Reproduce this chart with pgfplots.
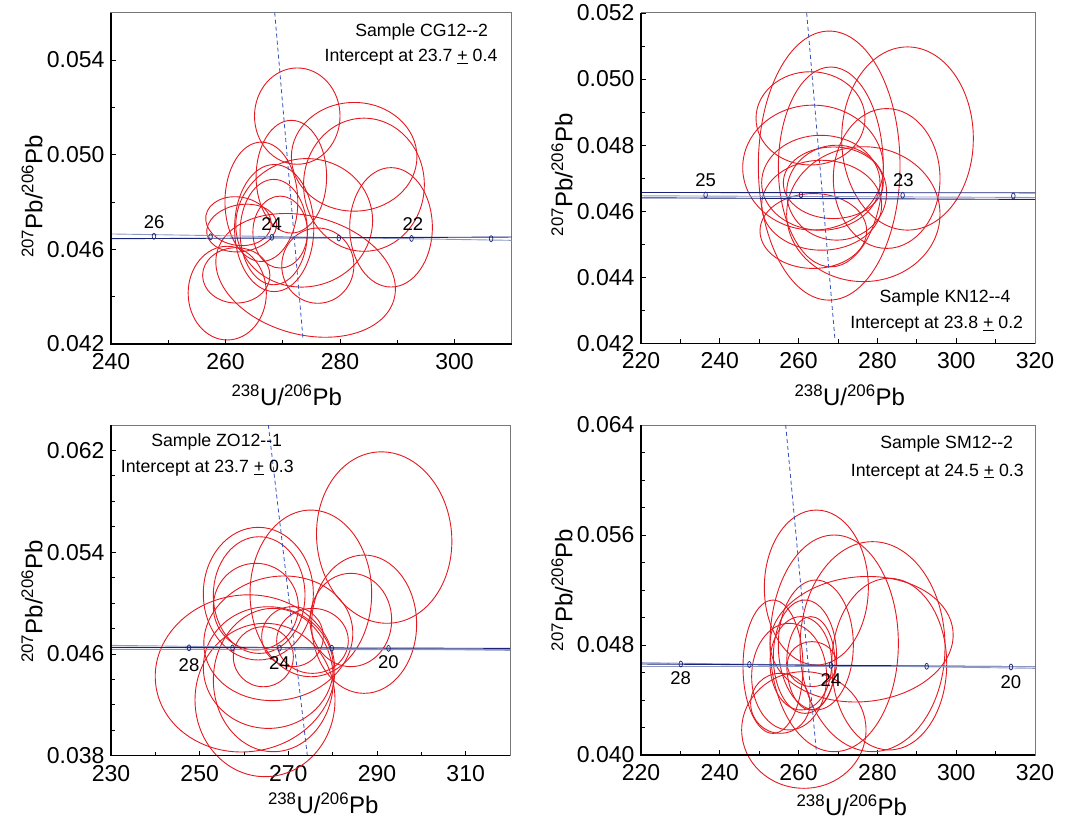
\documentclass[border=0pt]{standalone}
\usepackage{fontspec}
\setmainfont{Liberation Sans}
\usepackage{pgfplots}
\pgfplotsset{compat=1.18}
\definecolor{ellred}{RGB}{228,24,32}
\definecolor{discblue}{RGB}{50,80,190}
\definecolor{concnavy}{RGB}{25,35,120}
\definecolor{conclight}{RGB}{140,150,195}
\definecolor{spinegray}{RGB}{120,120,120}
% error ellipse: centre x, centre y, x radius, y radius, rotation
\newcommand\elp[5]{\draw[ellred, line width=0.9pt] (axis cs:#1,#2) circle [x radius=#3, y radius=#4, rotate=#5];}
\newcommand\spines{\draw[black, line width=1.1pt] (rel axis cs:0,1) -- (rel axis cs:0,0) -- (rel axis cs:1,0);}
\newcommand\labfont{\fontsize{24}{28}\selectfont}
\pgfplotsset{
  panel/.style={
    scale only axis, clip=false, anchor=south west,
    axis line style={spinegray, line width=1pt},
    tick align=inside, tick pos=left,
    major tick length=5pt, minor tick length=4pt,
    every tick/.style={black, line width=0.8pt},
    tick label style={font=\fontsize{23}{26}\selectfont},
    /pgf/number format/assume math mode=true,
    scaled y ticks=false, scaled x ticks=false,
    y tick label style={xshift=-3pt, /pgf/number format/fixed, /pgf/number format/fixed zerofill, /pgf/number format/precision=3},
    x tick label style={yshift=-6pt, /pgf/number format/fixed, /pgf/number format/precision=0},
    xlabel={\textsuperscript{238}U/\textsuperscript{206}Pb},
    ylabel={\textsuperscript{207}Pb/\textsuperscript{206}Pb},
  },
  conc/.style={concnavy, line width=0.9pt},
  concl/.style={conclight, line width=0.9pt},
  disc/.style={discblue, line width=0.8pt, dash pattern=on 4pt off 3pt},
  agemk/.style={only marks, mark=o, mark size=3pt, mark options={concnavy, xscale=0.6, line width=0.7pt}},
}
\newcommand\agelab{\fontsize{18.5}{20}\selectfont}
\newcommand\txt{\fontsize{17.7}{20}\selectfont}
\begin{document}
\begin{tikzpicture}
\useasboundingbox (0,0) rectangle (1089pt,820pt);
% ---------------- Panel 1: CG12--2
\begin{axis}[panel, at={(111pt,476pt)}, width=400.7pt, height=331.3pt,
  xmin=240, xmax=310, ymin=0.042, ymax=0.056,
  xtick={240,260,280,300}, minor x tick num=1,
  ytick={0.042,0.046,0.050,0.054}, minor y tick num=1,
  every axis x label/.style={at={(axis description cs:0.4385,-0.154)}, anchor=center, font=\labfont},
  every axis y label/.style={at={(axis description cs:-0.197,0.445)}, rotate=90, anchor=center, font=\labfont}]
\elp{272.54}{0.05163}{7.47}{0.002035}{0}
\elp{282.48}{0.04991}{10.97}{0.002297}{0}
\elp{284.19}{0.04873}{10.55}{0.002813}{0}
\elp{288.92}{0.04693}{7.22}{0.002523}{0}
\elp{271.51}{0.04907}{6.16}{0.002382}{0}
\elp{266.27}{0.04801}{6.36}{0.002523}{0}
\elp{274.0}{0.04490}{16.0}{0.00250}{-15}
\elp{273.75}{0.04712}{12.0}{0.00270}{15}
\elp{262.27}{0.04719}{5.77}{0.00102}{-10}
\elp{262.83}{0.04690}{6.16}{0.00099}{10}
\elp{268.51}{0.04690}{6.92}{0.002685}{0}
\elp{268.43}{0.04673}{5.88}{0.002226}{0}
\elp{269.55}{0.04673}{4.76}{0.00152}{0}
\elp{276.13}{0.04531}{6.30}{0.00159}{0}
\elp{261.88}{0.04490}{5.88}{0.00117}{0}
\elp{260.31}{0.04415}{6.83}{0.00198}{0}
\addplot[concl] coordinates {(240,0.04665) (310,0.04638)};
\addplot[conc] coordinates {(240,0.04645) (310,0.04652)};
\addplot[agemk] coordinates {(247.5,0.04655) (257.4,0.04653) (268.1,0.04651) (279.8,0.04648) (292.5,0.04646) (306.4,0.04645)};
\addplot[disc] coordinates {(268.6,0.0560) (273.56,0.04217)};
\node[font=\agelab] at (axis cs:247.54,0.04717) {26};
\node[font=\agelab] at (axis cs:268.07,0.04709) {24};
\node[font=\agelab] at (axis cs:292.75,0.04709) {22};
\node[font=\txt] at (rel axis cs:0.7754,0.9427) {Sample CG12-{}-2};
\node[font=\txt] at (rel axis cs:0.7487,0.8663) {Intercept at 23.7 \underline{+} 0.4};
\spines
\end{axis}
% ---------------- Panel 2: KN12--4
\begin{axis}[panel, at={(641pt,476.7pt)}, width=394pt, height=330.3pt,
  xmin=220, xmax=320, ymin=0.042, ymax=0.052,
  xtick={220,240,260,280,300,320}, minor x tick num=1,
  ytick={0.042,0.044,0.046,0.048,0.050,0.052}, minor y tick num=1,
  every axis x label/.style={at={(axis description cs:0.53,-0.1565)}, anchor=center, font=\labfont},
  every axis y label/.style={at={(axis description cs:-0.2005,0.51)}, rotate=90, anchor=center, font=\labfont}]
\elp{267.76}{0.04738}{17.98}{0.004073}{0}
\elp{287.64}{0.04820}{16.71}{0.002773}{0}
\elp{263.02}{0.04881}{13.83}{0.001412}{0}
\elp{268.18}{0.04734}{13.32}{0.003025}{0}
\elp{263.66}{0.04732}{17.85}{0.00189}{0}
\elp{282.35}{0.04699}{13.54}{0.002117}{0}
\elp{265.64}{0.04686}{15.02}{0.001437}{0}
\elp{268.81}{0.04686}{12.69}{0.001084}{0}
\elp{269.66}{0.04656}{12.69}{0.001437}{0}
\elp{276.43}{0.04591}{19.46}{0.002042}{0}
\elp{263.74}{0.04540}{13.54}{0.001134}{0}
\elp{265.85}{0.04618}{15.23}{0.001361}{0}
\addplot[concl] coordinates {(220,0.046466) (320,0.046415)};
\addplot[conc] coordinates {(220,0.046566) (320,0.046556)};
\addplot[conc] coordinates {(220,0.046405) (320,0.046355)};
\addplot[agemk] coordinates {(236.4,0.04649) (260.6,0.04649) (286.4,0.04648) (314.5,0.04646)};
\addplot[disc] coordinates {(262.05,0.0520) (269.24,0.0421)};
\node[font=\agelab] at (axis cs:236.41,0.04694) {25};
\node[font=\agelab] at (axis cs:286.58,0.04694) {23};
\node[font=\txt] at (rel axis cs:0.7716,0.138) {Sample KN12-{}-4};
\node[font=\txt] at (rel axis cs:0.7505,0.0584) {Intercept at 23.8 \underline{+} 0.2};
\spines
\end{axis}
% ---------------- Panel 3: ZO12--1
\begin{axis}[panel, at={(111pt,64.3pt)}, width=399pt, height=330.7pt,
  xmin=230, xmax=320, ymin=0.038, ymax=0.064,
  xtick={230,250,270,290,310}, minor x tick num=1,
  ytick={0.038,0.046,0.054,0.062}, minor y tick num=3,
  every axis x label/.style={at={(axis description cs:0.532,-0.143)}, anchor=center, font=\labfont},
  every axis y label/.style={at={(axis description cs:-0.198,0.466)}, rotate=90, anchor=center, font=\labfont}]
\elp{291.62}{0.05515}{15.23}{0.006749}{5}
\elp{275.08}{0.05076}{13.72}{0.006552}{0}
\elp{263.23}{0.05074}{12.41}{0.005216}{0}
\elp{263.42}{0.05063}{10.34}{0.004587}{0}
\elp{262.67}{0.04972}{9.59}{0.003407}{0}
\elp{287.10}{0.04834}{11.84}{0.005438}{0}
\elp{284.10}{0.04867}{9.21}{0.003669}{0}
\elp{260.23}{0.04447}{20.3}{0.006159}{8}
\elp{267.74}{0.04723}{16.92}{0.004849}{12}
\elp{265.49}{0.04493}{14.66}{0.004783}{0}
\elp{264.74}{0.04238}{15.79}{0.006028}{0}
\elp{266.62}{0.04395}{13.53}{0.005635}{0}
\elp{264.36}{0.04578}{6.77}{0.002359}{0}
\elp{270.94}{0.04736}{6.95}{0.002359}{0}
\elp{275.45}{0.04703}{8.08}{0.002555}{0}
\addplot[concl] coordinates {(230,0.046675) (320,0.046282)};
\addplot[conc] coordinates {(230,0.046518) (320,0.046439)};
\addplot[concl] coordinates {(230,0.046361) (320,0.046335)};
\addplot[agemk] coordinates {(247.6,0.04648) (257.4,0.04647) (268.0,0.04646) (279.8,0.04645) (292.6,0.04644)};
\addplot[disc] coordinates {(265.49,0.0640) (274.29,0.0380)};
\node[font=\agelab] at (axis cs:247.6,0.04513) {28};
\node[font=\agelab] at (axis cs:267.97,0.04526) {24};
\node[font=\agelab] at (axis cs:292.56,0.04534) {20};
\node[font=\txt] at (rel axis cs:0.2649,0.9477) {Sample ZO12-{}-1};
\node[font=\txt] at (rel axis cs:0.2414,0.869) {Intercept at 23.7 \underline{+} 0.3};
\spines
\end{axis}
% ---------------- Panel 4: SM12--2
\begin{axis}[panel, at={(641pt,65pt)}, width=394pt, height=330pt,
  xmin=220, xmax=320, ymin=0.040, ymax=0.064,
  xtick={220,240,260,280,300,320}, minor x tick num=1,
  ytick={0.040,0.048,0.056,0.064}, minor y tick num=3,
  every axis x label/.style={at={(axis description cs:0.535,-0.1515)}, anchor=center, font=\labfont},
  every axis y label/.style={at={(axis description cs:-0.2005,0.5)}, rotate=90, anchor=center, font=\labfont}]
\elp{264.50}{0.05218}{13.2}{0.005636}{0}
\elp{269.03}{0.04812}{16.29}{0.007879}{0}
\elp{278.76}{0.04788}{18.4}{0.007636}{0}
\elp{276.00}{0.04842}{23.27}{0.004545}{5}
\elp{283.00}{0.04661}{14.59}{0.006242}{0}
\elp{264.37}{0.04800}{9.52}{0.004727}{0}
\elp{261.62}{0.04715}{8.04}{0.004121}{0}
\elp{260.57}{0.04667}{7.83}{0.003394}{0}
\elp{253.50}{0.04642}{7.61}{0.004848}{0}
\elp{257.60}{0.04570}{9.52}{0.003879}{0}
\elp{263.10}{0.04667}{6.13}{0.003394}{0}
\elp{263.40}{0.04661}{6.26}{0.001636}{0}
\elp{261.33}{0.04182}{15.78}{0.004242}{0}
\elp{255.36}{0.04376}{7.53}{0.002182}{0}
\addplot[concl] coordinates {(220,0.046715) (320,0.046303)};
\addplot[conc] coordinates {(220,0.046618) (320,0.046424)};
\addplot[concl] coordinates {(220,0.046473) (320,0.046473)};
\addplot[agemk] coordinates {(230.1,0.04662) (247.5,0.04658) (268.2,0.04652) (292.5,0.04645) (313.9,0.04640)};
\addplot[disc] coordinates {(256.72,0.0640) (264.59,0.0400)};
\node[font=\agelab] at (axis cs:230.07,0.04558) {28};
\node[font=\agelab] at (axis cs:268.22,0.04545) {24};
\node[font=\agelab] at (axis cs:313.9,0.04533) {20};
\node[font=\txt] at (rel axis cs:0.7759,0.9415) {Sample SM12-{}-2};
\node[font=\txt] at (rel axis cs:0.752,0.8585) {Intercept at 24.5 \underline{+} 0.3};
\spines
\end{axis}
\end{tikzpicture}
\end{document}
